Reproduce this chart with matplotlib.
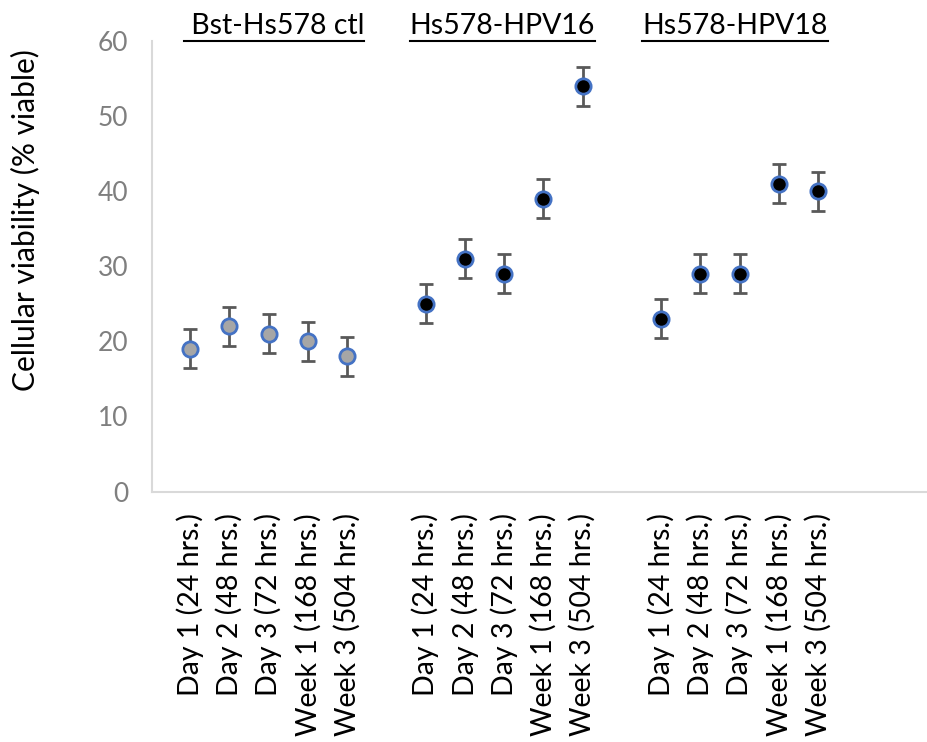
import numpy as np
import matplotlib.pyplot as plt
from matplotlib.lines import Line2D

# dados
tempos = ["Day 1 (24 hrs.)", "Day 2 (48 hrs.)", "Day 3 (72 hrs.)",
          "Week 1 (168 hrs.)", "Week 3 (504 hrs.)"]
grupos = [" Bst-Hs578 ctl", "Hs578-HPV16", "Hs578-HPV18"]
ctl = [19, 22, 21, 20, 18]
hpv16 = [25, 31, 29, 39, 54]
hpv18 = [23, 29, 29, 41, 40]
erro = [2.6, 2.6, 2.6, 2.6, 2.6]

plt.rcParams['font.family'] = ['Lato', 'DejaVu Sans']

fig = plt.figure(figsize=(9.28, 7.42), dpi=100)
ax = fig.add_axes([0.1638, 0.3376, 0.8362, 0.6068])

series = [ctl, hpv16, hpv18]
cores = ["#a6a6a6", "black", "black"]
posicoes = []
rotulos = []
for i, (vals, cor) in enumerate(zip(series, cores)):
    x = np.arange(5) + 6 * i
    posicoes += list(x)
    rotulos += tempos
    ax.errorbar(x, vals, yerr=erro, fmt='o', color="#595959", ecolor="#595959",
                elinewidth=2, capsize=5, capthick=2,
                markerfacecolor=cor, markeredgecolor="#4472c4",
                markeredgewidth=2, markersize=11, zorder=3)

ax.set_xlim(-0.97, 18.8)
ax.set_ylim(0, 60)
ax.set_yticks(range(0, 61, 10))
ax.set_xticks(posicoes)
ax.set_xticklabels(rotulos, rotation=90, va='top', ha='center', fontsize=20.5)
ax.tick_params(axis='x', length=0, pad=15.5)
ax.tick_params(axis='y', length=0, pad=17, labelsize=19, labelcolor="#7f7f7f")
for s in ["top", "right"]:
    ax.spines[s].set_visible(False)
for s in ["left", "bottom"]:
    ax.spines[s].set_color("#d9d9d9")
    ax.spines[s].set_linewidth(1.5)
ax.set_ylabel("Cellular viability (% viable)", fontsize=21.5)
ax.yaxis.set_label_coords(-0.144, 0.603)

# titulos dos grupos, sublinhados
titulos_x = [2.14, 7.96, 13.88]
textos = []
for g, xt in zip(grupos, titulos_x):
    t = ax.text(xt, 1.0167, g, transform=ax.get_xaxis_transform(),
                ha='center', va='baseline', fontsize=20.5, clip_on=False)
    textos.append(t)

fig.canvas.draw()
r = fig.canvas.get_renderer()
for t in textos:
    bb = t.get_window_extent(r).transformed(fig.transFigure.inverted())
    yb = bb.y0 - 0.003
    fig.add_artist(Line2D([bb.x0, bb.x1], [yb, yb], color="black", lw=1.5,
                          transform=fig.transFigure))

fig.savefig("out.png", dpi=100)
